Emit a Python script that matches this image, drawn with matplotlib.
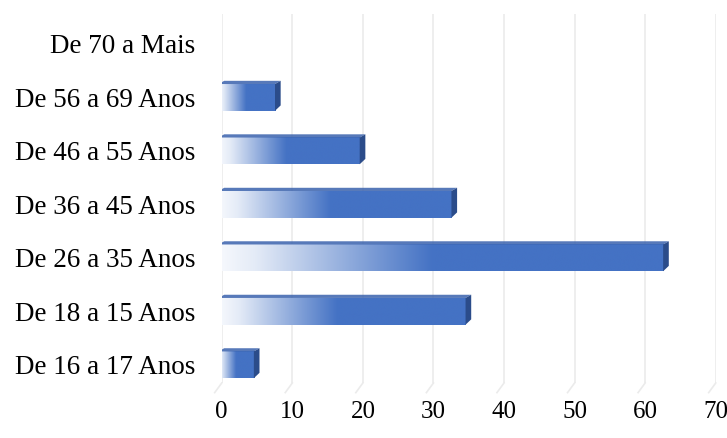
import matplotlib.pyplot as plt
import numpy as np
from matplotlib.colors import LinearSegmentedColormap
from matplotlib.patches import Polygon

plt.rcParams['font.family'] = ['Liberation Serif', 'DejaVu Serif']

faixas = ['De 16 a 17 Anos', 'De 18 a 15 Anos', 'De 26 a 35 Anos',
          'De 36 a 45 Anos', 'De 46 a 55 Anos', 'De 56 a 69 Anos',
          'De 70 a Mais']
valores = [5, 35, 63, 33, 20, 8, 0]
xticks = [0, 10, 20, 30, 40, 50, 60, 70]

fig = plt.figure(figsize=(7.27, 4.38), dpi=100)
ax = fig.add_axes([0.305, 0.1256, 0.6795, 0.8425])

cmap = LinearSegmentedColormap.from_list(
    'barra', [(0.0, '#f7f9fd'), (0.08, '#e4ebf7'), (0.48, '#4472c4'),
              (1.0, '#4472c4')])
grad = np.linspace(0, 1, 256).reshape(1, -1)

h = 0.5
off = 0.45   # deslocamento da face frontal (efeito 3D)
dx = 0.8
dy = 0.06

for i, v in enumerate(valores):
    if v <= 0:
        continue
    x0, x1 = -off, v - off
    y0, y1 = i - h / 2, i + h / 2
    ax.imshow(grad, cmap=cmap, extent=[x0, x1, y0, y1],
              aspect='auto', interpolation='bicubic', zorder=3)
    # face superior e lateral
    topo = Polygon([(x0, y1), (x1, y1), (x1 + dx, y1 + dy), (x0 + dx, y1 + dy)],
                   closed=True, facecolor='#3a62ad', edgecolor='none',
                   alpha=0.85, zorder=4)
    lado = Polygon([(x1, y0), (x1, y1), (x1 + dx, y1 + dy), (x1 + dx, y0 + 0.1)],
                   closed=True, facecolor='#2b4c8a', edgecolor='none',
                   zorder=4)
    ax.add_patch(topo)
    ax.add_patch(lado)

ax.set_xlim(0, 70)
ax.set_ylim(-0.34, 6.56)

# grade vertical com a pequena diagonal do piso
for x in xticks:
    ax.axvline(x, color='#ebebeb', lw=1.2, zorder=1)
    ax.plot([x, x - 1.0], [-0.34, -0.52], color='#ebebeb', lw=1.2,
            clip_on=False, zorder=1)

ax.set_xticks(xticks)
ax.set_yticks(range(len(faixas)))
ax.set_yticklabels(faixas, fontsize=19.5)
ax.tick_params(axis='x', labelsize=18, length=0, pad=13)
ax.tick_params(axis='y', length=0, pad=19)
for s in ax.spines.values():
    s.set_visible(False)

fig.savefig('out.png', dpi=100)
